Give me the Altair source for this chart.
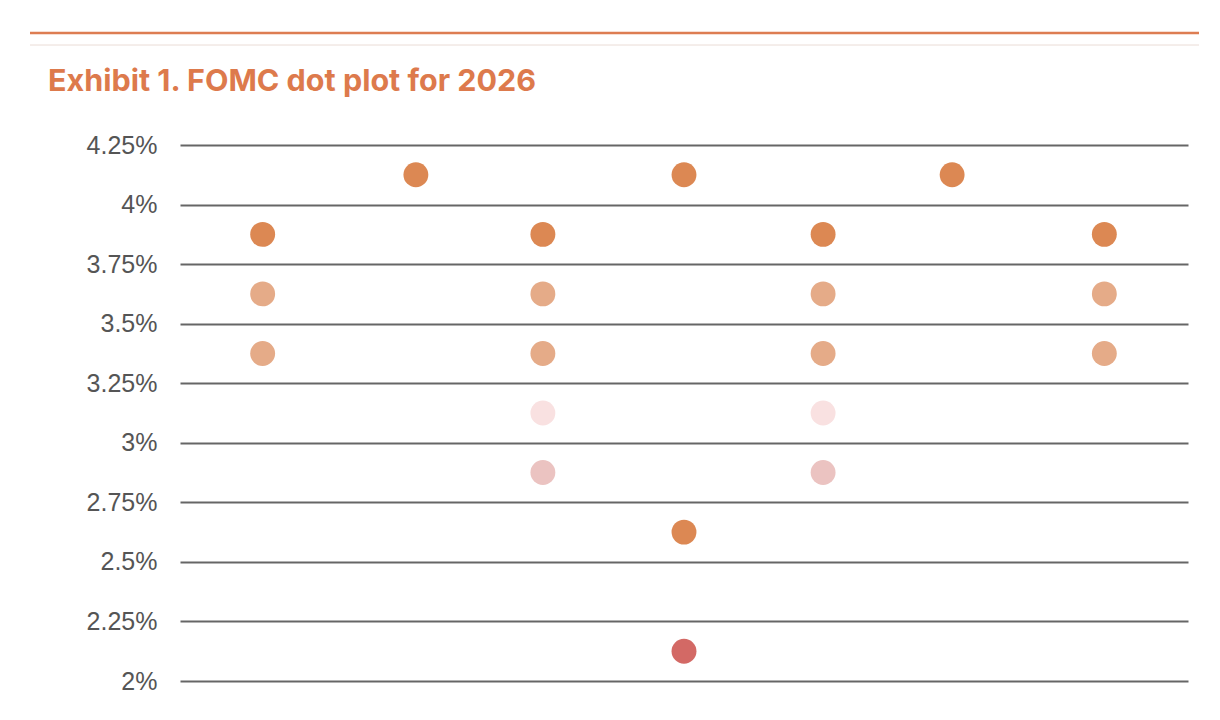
import altair as alt
import pandas as pd

# x positions (relative position along the plot, 0-100) of each dot column
col_x = [8.2, 23.4, 36.0, 50.0, 63.8, 76.6, 91.7]

# dots: column index, rate, shade group
dot_col = [0, 0, 0,
           1,
           2, 2, 2, 2, 2,
           3, 3, 3,
           4, 4, 4, 4, 4,
           5,
           6, 6, 6]
dot_rate = [3.875, 3.625, 3.375,
            4.125,
            3.875, 3.625, 3.375, 3.125, 2.875,
            4.125, 2.625, 2.125,
            3.875, 3.625, 3.375, 3.125, 2.875,
            4.125,
            3.875, 3.625, 3.375]
dot_group = ["A", "B", "B",
             "A",
             "A", "B", "B", "C", "D",
             "A", "A", "E",
             "A", "B", "B", "C", "D",
             "A",
             "A", "B", "B"]

group_domain = ["A", "B", "C", "D", "E"]
group_colors = ["#dc8853", "#e5ab88", "#f9e1e1", "#ebc3c1", "#d36965"]

y_ticks = [2.0, 2.25, 2.5, 2.75, 3.0, 3.25, 3.5, 3.75, 4.0, 4.25]

title_text = "Exhibit 1. FOMC dot plot for 2026"

df = pd.DataFrame({
    "x": [col_x[c] for c in dot_col],
    "rate": dot_rate,
    "group": dot_group,
})

W, H = 1008, 536

dots = alt.Chart(df).mark_circle(size=620, opacity=1).encode(
    x=alt.X("x:Q", scale=alt.Scale(domain=[0, 100]), axis=None),
    y=alt.Y("rate:Q",
            scale=alt.Scale(domain=[2, 4.25], nice=False, zero=False),
            axis=alt.Axis(values=y_ticks, labelExpr="datum.value + '%'",
                          title=None, domain=False, ticks=False,
                          grid=True, gridColor="#666666", gridWidth=2,
                          labelFont="Liberation Sans", labelFontSize=25,
                          labelColor="#555555", labelPadding=23)),
    color=alt.Color("group:N", scale=alt.Scale(domain=group_domain, range=group_colors),
                    legend=None),
)

one = pd.DataFrame({"k": [0]})

top_line = alt.Chart(one).mark_rule(color="#dd7d52", strokeWidth=2.5).encode(
    x=alt.value(-150), x2=alt.value(1019), y=alt.value(-112))
thin_line = alt.Chart(one).mark_rule(color="#eadcd6", strokeWidth=1).encode(
    x=alt.value(-150), x2=alt.value(1019), y=alt.value(-100))
title = alt.Chart(one).mark_text(
    text=title_text, align="left", baseline="alphabetic",
    font="Inter", fontSize=30.5, fontWeight="bold", color="#dd7a4c"
).encode(x=alt.value(-132), y=alt.value(-54))

chart = alt.layer(top_line, thin_line, title, dots).properties(
    width=W, height=H,
    autosize=alt.AutoSizeParams(type="none"),
    padding={"left": 172, "top": 137, "right": 24, "bottom": 30},
    background="white",
).configure_view(stroke=None)

chart.save("out.html", embed_options={"renderer": "svg", "actions": False})
